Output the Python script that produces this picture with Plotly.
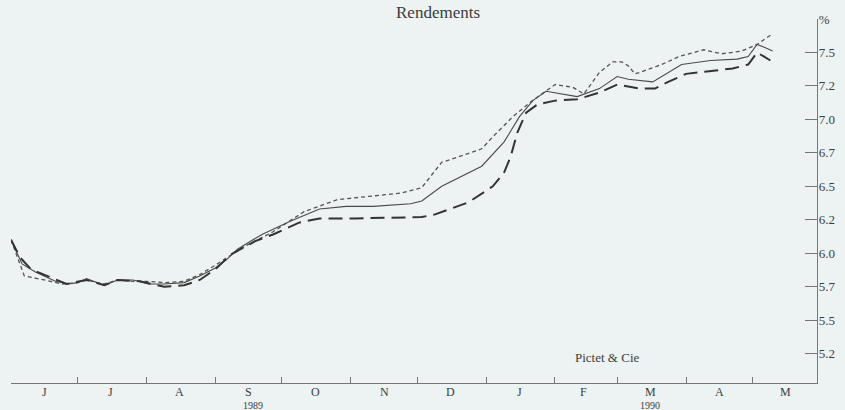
import plotly.graph_objects as go

# --- Data (yields, %) ---
solid_dates = ["1989-06-01","1989-06-06","1989-06-12","1989-06-21","1989-06-27","1989-07-01","1989-07-05",
               "1989-07-10","1989-07-13","1989-07-19","1989-07-26","1989-08-02","1989-08-09","1989-08-18",
               "1989-08-25","1989-09-01","1989-09-06","1989-09-11","1989-09-22","1989-10-05","1989-10-18",
               "1989-10-30","1989-11-11","1989-11-28","1989-12-03","1989-12-12","1989-12-30","1990-01-09",
               "1990-01-16","1990-01-22","1990-01-28","1990-02-11","1990-02-21","1990-03-01","1990-03-06",
               "1990-03-17","1990-03-30","1990-04-12","1990-04-24","1990-04-29","1990-05-03","1990-05-06",
               "1990-05-10"]
solid_vals = [6.10,5.92,5.86,5.79,5.77,5.78,5.81,
              5.78,5.76,5.80,5.80,5.77,5.77,5.78,
              5.83,5.89,5.95,6.03,6.14,6.24,6.33,
              6.35,6.35,6.37,6.39,6.50,6.65,6.83,
              7.02,7.14,7.21,7.17,7.23,7.32,7.30,
              7.28,7.41,7.44,7.45,7.47,7.56,7.54,
              7.51]

short_dates = ["1989-06-01","1989-06-07","1989-06-16","1989-06-24","1989-07-01","1989-07-05","1989-07-10",
               "1989-07-13","1989-07-19","1989-07-26","1989-08-02","1989-08-09","1989-08-18","1989-08-25",
               "1989-09-01","1989-09-13","1989-09-27","1989-10-11","1989-10-26","1989-11-11","1989-11-24",
               "1989-12-03","1989-12-12","1989-12-16","1989-12-30","1990-01-04","1990-01-13","1990-01-21",
               "1990-02-01","1990-02-09","1990-02-14","1990-02-21","1990-02-27","1990-03-03","1990-03-06",
               "1990-03-09","1990-03-11","1990-03-21","1990-03-29","1990-04-09","1990-04-17","1990-04-26",
               "1990-05-03","1990-05-10"]
short_vals = [6.10,5.83,5.80,5.77,5.78,5.80,5.78,
              5.77,5.80,5.79,5.79,5.78,5.79,5.84,
              5.91,6.04,6.16,6.31,6.40,6.43,6.45,
              6.49,6.68,6.70,6.78,6.87,7.02,7.13,
              7.26,7.24,7.19,7.35,7.43,7.43,7.40,
              7.34,7.35,7.41,7.47,7.52,7.49,7.51,
              7.56,7.64]

long_dates = ["1989-06-01","1989-06-05","1989-06-10","1989-06-26","1989-07-05","1989-07-13","1989-07-19",
              "1989-07-29","1989-08-09","1989-08-18","1989-08-25","1989-09-01","1989-09-08","1989-09-19",
              "1989-09-27","1989-10-09","1989-10-18","1989-11-03","1989-12-03","1989-12-09","1989-12-24",
              "1990-01-04","1990-01-09","1990-01-12","1990-01-15","1990-01-19","1990-01-24","1990-02-01",
              "1990-02-11","1990-02-21","1990-03-01","1990-03-11","1990-03-18","1990-03-24","1990-04-01",
              "1990-04-12","1990-04-22","1990-04-29","1990-05-03","1990-05-06","1990-05-09"]
long_vals = [6.10,5.97,5.88,5.77,5.80,5.76,5.80,
             5.79,5.75,5.76,5.80,5.88,5.99,6.09,
             6.14,6.23,6.26,6.26,6.27,6.29,6.38,
             6.50,6.60,6.72,6.90,7.05,7.11,7.14,
             7.15,7.20,7.26,7.23,7.23,7.28,7.34,
             7.36,7.38,7.41,7.50,7.47,7.44]

month_starts = ["1989-07-01","1989-08-01","1989-09-01","1989-10-01","1989-11-01","1989-12-01",
                "1990-01-01","1990-02-01","1990-03-01","1990-04-01","1990-05-01"]
month_mids = ["1989-06-16","1989-07-16","1989-08-16","1989-09-16","1989-10-16","1989-11-16","1989-12-16",
              "1990-01-16","1990-02-14","1990-03-16","1990-04-16","1990-05-16"]
month_labels = ["J","J","A","S","O","N","D","J","F","M","A","M"]
year_pos = ["1989-09-18","1990-03-16"]
year_labels = ["1989","1990"]

y_ticks = [5.25,5.50,5.75,6.00,6.25,6.50,6.75,7.00,7.25,7.50,7.75]
y_ticktext = ["5.2","5.5","5.7","6.0","6.2","6.5","6.7","7.0","7.2","7.5","%"]

BG = "#edf3f2"
INK = "#3c3c3c"
SERIF = "Liberation Serif, Times New Roman, serif"

L, R, T, B = 11, 28, 19, 27
PW, PH = 845 - L - R, 410 - T - B

fig = go.Figure()
fig.add_trace(go.Scatter(x=short_dates, y=short_vals, mode="lines",
                         line=dict(color="#555555", width=1.3, dash="4px,3px"), showlegend=False))
fig.add_trace(go.Scatter(x=solid_dates, y=solid_vals, mode="lines",
                         line=dict(color="#4a4a4a", width=1.1), showlegend=False))
fig.add_trace(go.Scatter(x=long_dates, y=long_vals, mode="lines",
                         line=dict(color="#333333", width=2.0, dash="14px,7px"), showlegend=False))

fig.update_layout(
    width=845, height=410,
    margin=dict(l=L, r=R, t=T, b=B, autoexpand=False),
    paper_bgcolor=BG, plot_bgcolor=BG,
    font=dict(family=SERIF, color=INK, size=13),
    xaxis=dict(type="date", range=["1989-06-01", "1990-05-30"],
               showgrid=False, zeroline=False, showline=True, linecolor="#777777", linewidth=1.2,
               tickmode="array", tickvals=month_starts, ticks="inside", ticklen=6,
               tickcolor="#777777", tickwidth=1, showticklabels=False),
    yaxis=dict(range=[5.03, 7.75], side="right", showgrid=False, zeroline=False,
               showline=True, linecolor="#777777", linewidth=1.2,
               tickmode="array", tickvals=y_ticks, ticktext=y_ticktext,
               ticks="inside", ticklen=12, tickcolor="#777777", tickwidth=1,
               ticklabelstandoff=-2, automargin=False,
               tickfont=dict(family=SERIF, size=13, color=INK)),
)

for d, lab in zip(month_mids, month_labels):
    fig.add_annotation(x=d, y=0, xref="x", yref="paper", text=lab, showarrow=False,
                       yanchor="top", yshift=0, font=dict(family=SERIF, size=12, color=INK))
for d, lab in zip(year_pos, year_labels):
    fig.add_annotation(x=d, y=0, xref="x", yref="paper", text=lab, showarrow=False,
                       yanchor="top", yshift=-15, font=dict(family=SERIF, size=10, color=INK))

fig.add_annotation(x=(438 - L) / PW, y=1 + (T - 12) / PH, xref="paper", yref="paper",
                   text="Rendements", showarrow=False, xanchor="center", yanchor="middle",
                   font=dict(family=SERIF, size=17, color=INK))
fig.add_annotation(x=(607 - L) / PW, y=(410 - B - 357) / PH, xref="paper", yref="paper",
                   text="Pictet & Cie", showarrow=False, xanchor="center", yanchor="middle",
                   font=dict(family=SERIF, size=13, color=INK))

fig.write_html("out.html", config={"displayModeBar": False},
               post_script="document.body.style.margin='0';document.body.style.overflow='hidden';")
